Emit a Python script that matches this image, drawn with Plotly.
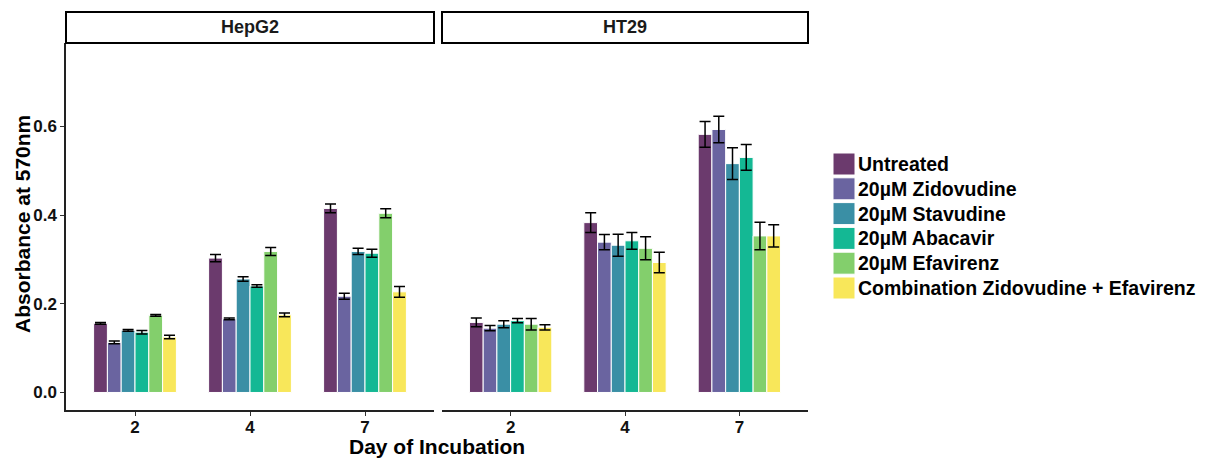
import plotly.graph_objects as go

# ---------------- data ----------------
days = ["2", "4", "7"]
cell_lines = ["HepG2", "HT29"]
treatments = [
    "Untreated",
    "20µM Zidovudine",
    "20µM Stavudine",
    "20µM Abacavir",
    "20µM Efavirenz",
    "Combination Zidovudine + Efavirenz",
]
colors = ["#6B3A6D", "#6A64A0", "#3A8FA5", "#14B894", "#83CF6C", "#F8E75A"]

# mean absorbance, one row per treatment, columns = days 2, 4, 7
hepg2_mean = [
    [0.156, 0.303, 0.415],
    [0.113, 0.166, 0.217],
    [0.140, 0.256, 0.318],
    [0.136, 0.240, 0.314],
    [0.174, 0.318, 0.404],
    [0.125, 0.175, 0.227],
]
hepg2_err = [
    [0.002, 0.008, 0.010],
    [0.003, 0.002, 0.007],
    [0.002, 0.005, 0.007],
    [0.004, 0.003, 0.009],
    [0.002, 0.009, 0.010],
    [0.004, 0.004, 0.012],
]
ht29_mean = [
    [0.158, 0.383, 0.582],
    [0.145, 0.339, 0.593],
    [0.154, 0.332, 0.516],
    [0.162, 0.342, 0.530],
    [0.154, 0.325, 0.353],
    [0.147, 0.293, 0.353],
]
ht29_err = [
    [0.010, 0.022, 0.029],
    [0.006, 0.017, 0.030],
    [0.008, 0.025, 0.036],
    [0.005, 0.019, 0.029],
    [0.013, 0.026, 0.031],
    [0.006, 0.023, 0.025],
]
y_ticks = [0.0, 0.2, 0.4, 0.6]
y_tick_labels = ["0.0", "0.2", "0.4", "0.6"]

# ---------------- layout helpers ----------------
W, H = 1209, 459
FONT = "Liberation Sans, Arial, sans-serif"


def px_x(x):
    return x / W


def px_y(y):
    return 1 - y / H


panel_left = [(66, 434), (442, 808)]
plot_top, plot_bottom = 43, 410
strip_top = 12

fig = go.Figure()

for i, name in enumerate(treatments):
    for j, (means, errs) in enumerate([(hepg2_mean, hepg2_err), (ht29_mean, ht29_err)]):
        fig.add_trace(
            go.Bar(
                x=days,
                y=means[i],
                name=name,
                xaxis="x" if j == 0 else "x2",
                yaxis="y" if j == 0 else "y2",
                offsetgroup=str(i),
                marker=dict(color=colors[i], line=dict(color="white", width=1)),
                error_y=dict(
                    type="data",
                    array=errs[i],
                    color="black",
                    thickness=1.5,
                    width=5.5,
                ),
                showlegend=False,
            )
        )

xaxis_common = dict(
    type="category",
    categoryorder="array",
    categoryarray=days,
    range=[-0.6, 2.6],
    showgrid=False,
    zeroline=False,
    showline=True,
    linecolor="#222222",
    linewidth=1.5,
    ticks="outside",
    ticklen=4,
    tickcolor="#333333",
    ticklabelstandoff=-3,
    tickfont=dict(family=FONT, size=17, color="#111111", weight="bold"),
    fixedrange=True,
)

y_range = [-0.0395, 0.788]

fig.update_layout(
    width=W,
    height=H,
    autosize=False,
    margin=dict(l=0, r=0, t=0, b=0),
    paper_bgcolor="white",
    plot_bgcolor="white",
    barmode="group",
    bargap=0.28,
    bargroupgap=0,
    xaxis=dict(domain=[px_x(panel_left[0][0]), px_x(panel_left[0][1])], anchor="y", **xaxis_common),
    xaxis2=dict(domain=[px_x(panel_left[1][0]), px_x(panel_left[1][1])], anchor="y2", **xaxis_common),
    yaxis=dict(
        domain=[px_y(plot_bottom), px_y(plot_top)],
        range=y_range,
        anchor="x",
        tickvals=y_ticks,
        ticktext=y_tick_labels,
        showgrid=False,
        zeroline=False,
        showline=True,
        linecolor="#222222",
        linewidth=1.5,
        ticks="outside",
        ticklen=4,
        tickcolor="#333333",
        tickfont=dict(family=FONT, size=17, color="#111111", weight="bold"),
        fixedrange=True,
    ),
    yaxis2=dict(
        domain=[px_y(plot_bottom), px_y(plot_top)],
        range=y_range,
        anchor="x2",
        matches="y",
        showticklabels=False,
        showgrid=False,
        zeroline=False,
        showline=False,
        ticks="",
        fixedrange=True,
    ),
)

shapes = []
annotations = []

# facet strips
for (x0, x1), label in zip(panel_left, cell_lines):
    shapes.append(
        dict(
            type="rect",
            xref="paper",
            yref="paper",
            x0=px_x(x0),
            x1=px_x(x1),
            y0=px_y(plot_top),
            y1=px_y(strip_top),
            line=dict(color="black", width=2),
            fillcolor="white",
        )
    )
    annotations.append(
        dict(
            xref="paper",
            yref="paper",
            x=px_x((x0 + x1) / 2),
            y=px_y((plot_top + strip_top) / 2),
            text=label,
            showarrow=False,
            xanchor="center",
            yanchor="middle",
            font=dict(family=FONT, size=18, color="#1a1a1a", weight="bold"),
        )
    )

# axis titles
annotations.append(
    dict(
        xref="paper",
        yref="paper",
        x=px_x(437),
        y=px_y(446),
        text="Day of Incubation",
        showarrow=False,
        xanchor="center",
        yanchor="middle",
        font=dict(family=FONT, size=21, color="black", weight="bold"),
    )
)
annotations.append(
    dict(
        xref="paper",
        yref="paper",
        x=px_x(22),
        y=px_y(224),
        text="Absorbance at 570nm",
        textangle=-90,
        showarrow=False,
        xanchor="center",
        yanchor="middle",
        font=dict(family=FONT, size=21, color="black", weight="bold"),
    )
)

# legend (swatches + labels)
leg_x0, leg_top, sw, step = 833, 153, 22, 24.8
for i, name in enumerate(treatments):
    y0 = leg_top + i * step
    shapes.append(
        dict(
            type="rect",
            xref="paper",
            yref="paper",
            x0=px_x(leg_x0),
            x1=px_x(leg_x0 + sw),
            y0=px_y(y0 + sw),
            y1=px_y(y0),
            line=dict(color="white", width=1),
            fillcolor=colors[i],
        )
    )
    annotations.append(
        dict(
            xref="paper",
            yref="paper",
            x=px_x(leg_x0 + sw + 1),
            y=px_y(y0 + sw / 2),
            text=name,
            showarrow=False,
            xanchor="left",
            yanchor="middle",
            font=dict(family=FONT, size=19.5, color="black", weight="bold"),
        )
    )

fig.update_layout(shapes=shapes, annotations=annotations)

fig.write_html(
    "out.html",
    config={"displayModeBar": False},
    post_script="document.body.style.margin='0';document.body.style.overflow='hidden';",
)
